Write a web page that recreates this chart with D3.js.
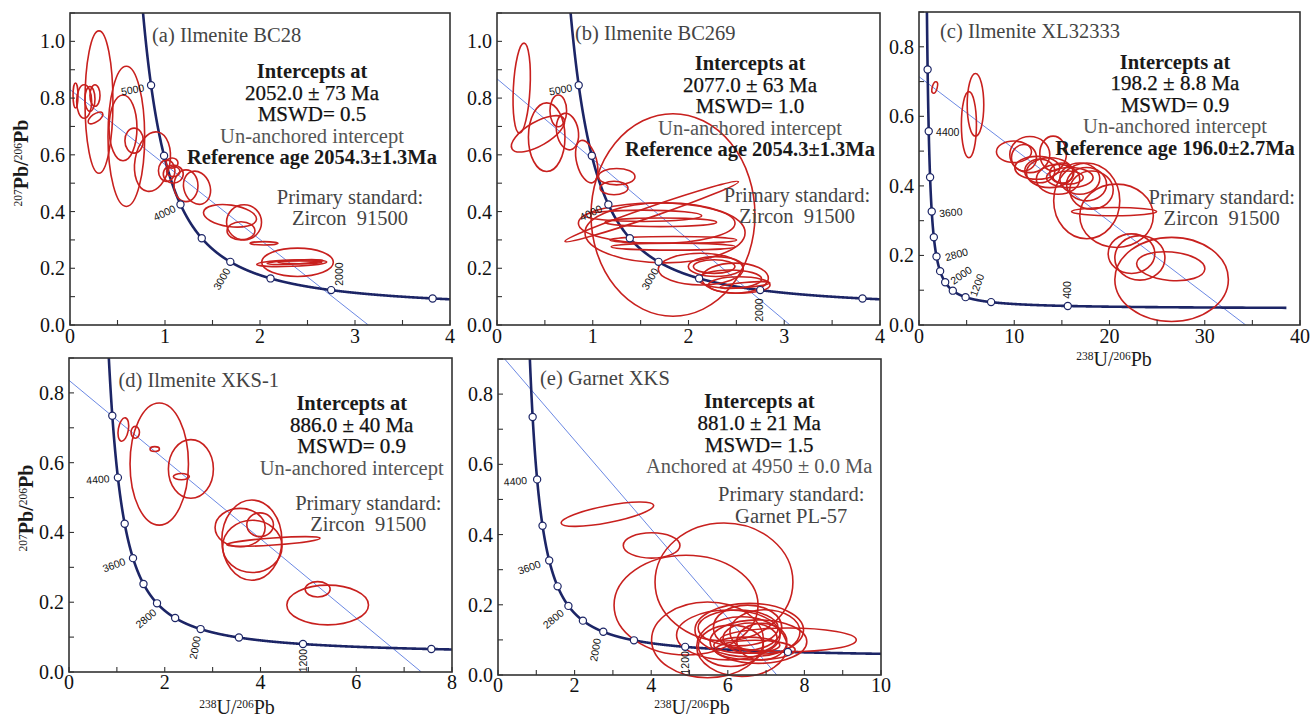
<!DOCTYPE html>
<html>
<head>
<meta charset="utf-8">
<script src="https://cdn.jsdelivr.net/npm/d3@7"></script>
<style>
  body { margin: 0; background: #fff; }
  svg { display: block; }
  text { white-space: pre; }
</style>
</head>
<body>
<svg id="chart" width="1310" height="719"></svg>
<script>
// decay constants (per Ma) for the Tera-Wasserburg concordia
var LAMBDA_238 = 1.55125e-4;
var LAMBDA_235 = 9.8485e-4;
var U_RATIO = 137.88;

// ---- data -------------------------------------------------------------
var titles = ["(a) Ilmenite BC28", "(b) Ilmenite BC269", "(c) Ilmenite XL32333",
              "(d) Ilmenite XKS-1", "(e) Garnet XKS"];

var resultsA = ["Intercepts at", "2052.0 \u00b1 73 Ma", "MSWD= 0.5", "Un-anchored intercept", "Reference age 2054.3\u00b11.3Ma"];
var resultsB = ["Intercepts at", "2077.0 \u00b1 63 Ma", "MSWD= 1.0", "Un-anchored intercept", "Reference age 2054.3\u00b11.3Ma"];
var resultsC = ["Intercepts at", "198.2 \u00b1 8.8 Ma", "MSWD= 0.9", "Un-anchored intercept", "Reference age 196.0\u00b12.7Ma"];
var resultsD = ["Intercepts at", "886.0 \u00b1 40 Ma", "MSWD= 0.9", "Un-anchored intercept"];
var resultsE = ["Intercepts at", "881.0 \u00b1 21 Ma", "MSWD= 1.5", "Anchored at 4950 \u00b1 0.0 Ma"];

var standardZircon = ["Primary standard:", "Zircon  91500"];
var standardGarnet = ["Primary standard:", "Garnet PL-57"];

var xTicksAB = [0, 1, 2, 3, 4];
var xTicksC = [0, 10, 20, 30, 40];
var xTicksD = [0, 2, 4, 6, 8];
var xTicksE = [0, 2, 4, 6, 8, 10];
var yTicksAB = [0, 0.2, 0.4, 0.6, 0.8, 1.0];
var yTicksCDE = [0, 0.2, 0.4, 0.6, 0.8];

// concordia age marks (Ma)
var marksOld = [5000, 4500, 4000, 3500, 3000, 2500, 2000, 1500];
var marksYoung = [4800, 4400, 4000, 3600, 3200, 2800, 2400, 2000, 1600, 1200, 800, 400];
var labelsAB = [5000, 4000, 3000, 2000];
var labelsC = [4400, 3600, 2800, 2000, 1200, 400];
var labelsDE = [4400, 3600, 2800, 2000, 1200];

// discordia: [upper y-intercept, lower x-intercept]
var discordiaA = [0.83, 3.14];
var discordiaB = [0.868, 3.06];
var discordiaC = [0.714, 34.3];
var discordiaD = [0.836, 7.36];
var discordiaE = [0.922, 7.28];

// error ellipses: [238U/206Pb, 207Pb/206Pb, err x, err y, tilt deg]
var ellipsesA = [
  [0.305, 0.786, 0.147, 0.251, 0], [0.593, 0.665, 0.193, 0.247, 0], [0.558, 0.695, 0.147, 0.116, 0],
  [0.058, 0.809, 0.026, 0.044, 0], [0.149, 0.788, 0.079, 0.059, 0], [0.21, 0.797, 0.053, 0.044, 0],
  [0.263, 0.809, 0.053, 0.038, 0], [0.268, 0.73, 0.09, 0.014, -35], [0.675, 0.65, 0.097, 0.044, 0],
  [0.868, 0.576, 0.184, 0.106, 10], [1.018, 0.544, 0.087, 0.038, 0], [1.087, 0.532, 0.105, 0.032, 0],
  [1.087, 0.541, 0.07, 0.018, 0], [1.074, 0.571, 0.063, 0.018, 0], [1.221, 0.491, 0.126, 0.056, 0],
  [1.337, 0.484, 0.137, 0.06, -20], [1.684, 0.385, 0.281, 0.038, 8], [1.832, 0.362, 0.184, 0.062, 0],
  [1.8, 0.332, 0.147, 0.032, 0], [2.042, 0.288, 0.147, 0.006, 0], [2.395, 0.221, 0.377, 0.05, 0],
  [2.334, 0.218, 0.368, 0.011, -2], [2.37, 0.222, 0.295, 0.007, -3], [2.42, 0.221, 0.23, 0.005, 0]
];
var ellipsesB = [
  [0.258, 0.835, 0.087, 0.159, 3], [0.519, 0.662, 0.191, 0.121, 0], [0.428, 0.674, 0.313, 0.042, -30],
  [0.64, 0.755, 0.087, 0.056, 0], [0.736, 0.682, 0.113, 0.065, -10], [0.937, 0.576, 0.104, 0.077, -15],
  [1.25, 0.523, 0.191, 0.029, 0], [1.222, 0.483, 0.146, 0.024, 0], [1.838, 0.388, 0.856, 0.357, 0],
  [1.616, 0.4, 0.958, 0.018, -19], [1.528, 0.385, 0.609, 0.02, 0], [1.711, 0.362, 0.583, 0.015, 0],
  [1.668, 0.359, 0.818, 0.071, 0], [1.755, 0.325, 0.836, 0.106, 0], [1.841, 0.3, 0.661, 0.012, 0],
  [1.841, 0.276, 0.648, 0.012, 0], [2.128, 0.197, 0.444, 0.056, 0], [2.285, 0.206, 0.287, 0.035, 0],
  [2.268, 0.206, 0.217, 0.024, 0], [2.486, 0.165, 0.348, 0.053, 0], [2.433, 0.162, 0.331, 0.032, 0],
  [2.53, 0.141, 0.322, 0.029, 0], [2.59, 0.141, 0.26, 0.009, -5]
];
var ellipsesC = [
  [1.65, 0.683, 0.26, 0.017, 15], [5.24, 0.576, 0.79, 0.095, 0], [5.93, 0.633, 0.87, 0.09, 0],
  [9.97, 0.498, 1.84, 0.031, 0], [11.63, 0.49, 2.1, 0.052, 0], [11.02, 0.481, 1.31, 0.038, 0],
  [14.08, 0.493, 1.4, 0.05, 0], [12.42, 0.452, 2.36, 0.033, 0], [13.73, 0.438, 2.45, 0.043, 0],
  [14.6, 0.419, 2.28, 0.043, 0], [15.83, 0.424, 2.45, 0.029, 0], [15.66, 0.424, 1.58, 0.019, 0],
  [16.88, 0.421, 2.1, 0.045, 0], [17.59, 0.405, 2.1, 0.048, 0], [18.11, 0.388, 2.28, 0.055, 0],
  [17.61, 0.357, 3.47, 0.109, 0], [20.74, 0.314, 3.86, 0.091, 0], [20.48, 0.326, 4.47, 0.012, 0],
  [22.31, 0.205, 2.45, 0.057, 0], [23.19, 0.193, 2.63, 0.064, 0], [26.43, 0.169, 3.59, 0.041, 5],
  [26.52, 0.131, 5.96, 0.121, 0], [12.68, 0.443, 1.58, 0.034, 0], [14.99, 0.437, 1.26, 0.029, 0]
];
var ellipsesD = [
  [1.135, 0.695, 0.105, 0.034, 10], [1.384, 0.687, 0.088, 0.017, 0], [1.791, 0.639, 0.098, 0.007, 0],
  [1.885, 0.596, 0.61, 0.175, 0], [2.546, 0.582, 0.47, 0.084, 0], [2.347, 0.56, 0.167, 0.009, 0],
  [3.574, 0.414, 0.523, 0.055, 0], [3.819, 0.378, 0.627, 0.115, 0], [3.992, 0.422, 0.278, 0.034, 0],
  [3.83, 0.36, 0.62, 0.075, 0], [4.27, 0.374, 0.976, 0.01, -4], [5.194, 0.237, 0.261, 0.022, 0],
  [5.403, 0.192, 0.853, 0.057, 0]
];
var ellipsesE = [
  [2.856, 0.458, 1.229, 0.024, -11], [4.011, 0.369, 0.74, 0.036, 0], [5.9, 0.265, 1.8, 0.168, 0],
  [4.91, 0.199, 1.88, 0.142, 0], [5.47, 0.1, 1.46, 0.108, 0], [6.014, 0.114, 1.352, 0.071, 0],
  [6.56, 0.128, 1.417, 0.076, 0], [6.365, 0.081, 1.177, 0.085, 0], [6.517, 0.135, 0.894, 0.064, 0],
  [7.576, 0.1, 1.778, 0.034, 0], [6.08, 0.083, 0.85, 0.059, 0], [6.8, 0.095, 1.263, 0.062, 0],
  [6.496, 0.085, 0.863, 0.023, 0], [6.888, 0.095, 0.654, 0.052, 0], [6.582, 0.105, 0.706, 0.043, 0],
  [6.27, 0.134, 1.046, 0.051, 0], [6.97, 0.123, 0.915, 0.063, 0], [6.713, 0.071, 1.046, 0.028, 0]
];

// ---- layout -----------------------------------------------------------
var SERIF = "'Liberation Serif', 'Times New Roman', serif";
var SANS = "'Liberation Sans', Arial, sans-serif";
var RED = "#c8201e", NAVY = "#1c2566", BLUE = "#5a7be0";

// label offsets from its marker: [dx, dy, rotate]
var panels = [
  { id: "a", box: [70, 13, 450, 325], xMax: 4, yMax: 1.1, xTicks: xTicksAB, xMinor: 0.5, yTicks: yTicksAB, tickGap: 18,
    ellipses: ellipsesA, discordia: discordiaA, marks: marksOld, tMin: 1000,
    labels: labelsAB, labelPos: [[-18.5, 4.5, -10], [-16, 8.5, -25], [-8.5, 17, -60], [8, -16, -90]],
    title: titles[0], titlePos: [82, 29], results: resultsA, resPos: [242, 65], standard: standardZircon, stdPos: [280, 190.5],
    yTitle: [28, 163] },
  { id: "b", box: [497, 13, 880, 325], xMax: 4, yMax: 1.1, xTicks: xTicksAB, xMinor: 0.5, yTicks: yTicksAB, tickGap: 18,
    ellipses: ellipsesB, discordia: discordiaB, marks: marksOld, tMin: 1000,
    labels: labelsAB, labelPos: [[-18, 4.5, -10], [-17.5, 8.5, -25], [-8.5, 17, -60], [-1, 20, -90]],
    title: titles[1], titlePos: [78, 27], results: resultsB, resPos: [253, 57], standard: standardZircon, stdPos: [300, 188.5] },
  { id: "c", box: [919, 12, 1300, 325], xMax: 40, yMax: 0.9, xTicks: xTicksC, xMinor: 5, yTicks: yTicksCDE, tickGap: 18,
    ellipses: ellipsesC, discordia: discordiaC, marks: marksYoung, tMin: 165,
    labels: labelsC, labelPos: [[19, 1, 0], [19, 1, -5], [20, -2, -15], [16, -7, -35], [11.5, -12, -70], [0, -16, -90]],
    title: titles[2], titlePos: [21, 25.5], results: resultsC, resPos: [256, 56.5], standard: standardZircon, stdPos: [302.7, 191.5],
    xTitle: [1114, 366] },
  { id: "d", box: [69, 358, 452, 672], xMax: 8, yMax: 0.9, xTicks: xTicksD, xMinor: 1, yTicks: yTicksCDE, tickGap: 16.6,
    ellipses: ellipsesD, discordia: discordiaD, marks: marksYoung, tMin: 500,
    labels: labelsDE, labelPos: [[-20, 2, -5], [-19, 7, -20], [-11, 15, -40], [-5.6, 18.6, -80], [0, 16.6, -90]],
    title: titles[3], titlePos: [49.5, 28.5], results: resultsD, resPos: [282.7, 52], standard: standardZircon, stdPos: [299.3, 151.5],
    yTitle: [33, 508], xTitle: [237, 714] },
  { id: "e", box: [498, 359, 881, 675], xMax: 10, yMax: 0.9, xTicks: xTicksE, xMinor: 1, yTicks: yTicksCDE, tickGap: 16.6,
    ellipses: ellipsesE, discordia: discordiaE, marks: marksYoung, tMin: 300,
    labels: labelsDE, labelPos: [[-21.7, 2, -5], [-20, 7, -20], [-15, 13, -40], [-8, 18, -80], [0, 16, -90]],
    title: titles[4], titlePos: [42, 26], results: resultsE, resPos: [261.2, 49.3], standard: standardGarnet, stdPos: [293.2, 142.2],
    xTitle: [692, 714] }
];

// Tera-Wasserburg coordinates for an age in Ma
function teraW(t) {
  var e8 = Math.exp(LAMBDA_238 * t) - 1;
  var e5 = Math.exp(LAMBDA_235 * t) - 1;
  return [1 / e8, e5 / (U_RATIO * e8)];
}

var svg = d3.select("#chart");

function ratioTitle(sel, a, b, c, d, weight) {
  sel.style("font-family", SERIF).style("font-size", "20px").style("font-weight", weight).attr("fill", "#1a1a1a");
  sel.append("tspan").attr("baseline-shift", "super").style("font-size", "11.5px").style("font-weight", "normal").text(a);
  sel.append("tspan").text(b);
  sel.append("tspan").attr("baseline-shift", "super").style("font-size", "11.5px").style("font-weight", "normal").text(c);
  sel.append("tspan").text(d);
}

panels.forEach(function(p) {
  var L = p.box[0], T = p.box[1], R = p.box[2], B = p.box[3];
  var x = d3.scaleLinear().domain([0, p.xMax]).range([L, R]);
  var y = d3.scaleLinear().domain([0, p.yMax]).range([B, T]);
  var g = svg.append("g").attr("class", "panel-" + p.id);
  var clipId = "clip-" + p.id;

  g.append("clipPath").attr("id", clipId).append("rect")
    .attr("x", L).attr("y", T).attr("width", R - L).attr("height", B - T);

  // discordia
  g.append("line")
    .attr("clip-path", "url(#" + clipId + ")")
    .attr("x1", x(0)).attr("y1", y(p.discordia[0]))
    .attr("x2", x(p.discordia[1])).attr("y2", y(0))
    .attr("stroke", BLUE).attr("stroke-width", 0.9);

  // concordia
  var curve = d3.range(p.tMin, 6000, 2).map(teraW);
  g.append("path").datum(curve)
    .attr("clip-path", "url(#" + clipId + ")")
    .attr("d", d3.line().x(function(d) { return x(d[0]); }).y(function(d) { return y(d[1]); }))
    .attr("fill", "none").attr("stroke", NAVY).attr("stroke-width", 2.6);

  // error ellipses
  g.selectAll("ellipse.err").data(p.ellipses).join("ellipse")
    .attr("class", "err")
    .attr("transform", function(d) { return "translate(" + x(d[0]) + "," + y(d[1]) + ") rotate(" + d[4] + ")"; })
    .attr("rx", function(d) { return x(d[2]) - x(0); })
    .attr("ry", function(d) { return y(0) - y(d[3]); })
    .attr("fill", "none").attr("stroke", RED).attr("stroke-width", 1.6);

  // age marks
  var marks = p.marks.map(teraW).filter(function(d) { return d[0] <= p.xMax && d[1] <= p.yMax; });
  g.selectAll("circle.mark").data(marks).join("circle")
    .attr("class", "mark")
    .attr("cx", function(d) { return x(d[0]); })
    .attr("cy", function(d) { return y(d[1]); })
    .attr("r", 3.6)
    .attr("fill", "#fff").attr("stroke", NAVY).attr("stroke-width", 1.2);

  g.selectAll("text.age").data(p.labels).join("text")
    .attr("class", "age")
    .attr("transform", function(d, i) {
      var pt = teraW(d), o = p.labelPos[i];
      return "translate(" + (x(pt[0]) + o[0]) + "," + (y(pt[1]) + o[1]) + ") rotate(" + o[2] + ")";
    })
    .attr("text-anchor", "middle").attr("dy", "0.35em")
    .style("font-family", SANS).style("font-size", "10.5px").attr("fill", "#111")
    .text(function(d) { return d; });

  // frame and ticks
  g.append("rect").attr("x", L).attr("y", T).attr("width", R - L).attr("height", B - T)
    .attr("fill", "none").attr("stroke", "#333").attr("stroke-width", 1.6);

  var xMinor = d3.range(0, p.xMax + 1e-9, p.xMinor);
  var yMinor = d3.range(0, p.yMax + 1e-9, 0.1);
  g.selectAll("line.xt").data(xMinor).join("line").attr("class", "xt")
    .attr("x1", function(d) { return x(d); }).attr("x2", function(d) { return x(d); })
    .attr("y1", B).attr("y2", B - 5).attr("stroke", "#333").attr("stroke-width", 1.1);
  g.selectAll("line.yt").data(yMinor).join("line").attr("class", "yt")
    .attr("y1", function(d) { return y(d); }).attr("y2", function(d) { return y(d); })
    .attr("x1", L).attr("x2", L + 5).attr("stroke", "#333").attr("stroke-width", 1.1);

  g.selectAll("text.xl").data(p.xTicks).join("text").attr("class", "xl")
    .attr("x", function(d) { return x(d); }).attr("y", B + p.tickGap)
    .attr("text-anchor", "middle")
    .style("font-family", SERIF).style("font-size", "20px").attr("fill", "#111")
    .text(function(d) { return d; });
  g.selectAll("text.yl").data(p.yTicks).join("text").attr("class", "yl")
    .attr("x", L - 5).attr("y", function(d) { return y(d); }).attr("dy", "0.35em")
    .attr("text-anchor", "end")
    .style("font-family", SERIF).style("font-size", "20px").attr("fill", "#111")
    .text(function(d) { return d3.format(".1f")(d); });

  // annotations
  g.append("text").attr("x", L + p.titlePos[0]).attr("y", T + p.titlePos[1])
    .style("font-family", SERIF).style("font-size", "20.5px").attr("fill", "#444")
    .text(p.title);

  var resStyle = [
    { w: "bold", c: "#1a1a1a", s: 0, f: 20.5 }, { w: "normal", c: "#111", s: 0.25, f: 21 },
    { w: "normal", c: "#111", s: 0.25, f: 21 }, { w: "normal", c: "#555", s: 0, f: 20.5 },
    { w: "bold", c: "#1a1a1a", s: 0, f: 20.5 }
  ];
  g.selectAll("text.res").data(p.results).join("text").attr("class", "res")
    .attr("x", L + p.resPos[0]).attr("y", function(d, i) { return T + p.resPos[1] + i * 21.6; })
    .attr("text-anchor", "middle")
    .style("font-family", SERIF)
    .style("font-size", function(d, i) { return resStyle[i].f + "px"; })
    .style("font-weight", function(d, i) { return resStyle[i].w; })
    .attr("fill", function(d, i) { return resStyle[i].c; })
    .attr("stroke", function(d, i) { return resStyle[i].s ? resStyle[i].c : "none"; })
    .attr("stroke-width", function(d, i) { return resStyle[i].s; })
    .text(function(d) { return d; });

  g.selectAll("text.std").data(p.standard).join("text").attr("class", "std")
    .attr("x", L + p.stdPos[0]).attr("y", function(d, i) { return T + p.stdPos[1] + i * 21.8; })
    .attr("text-anchor", "middle")
    .style("font-family", SERIF).style("font-size", "20.5px").attr("fill", "#444")
    .text(function(d) { return d; });

  if (p.yTitle) {
    g.append("text")
      .attr("transform", "translate(" + p.yTitle[0] + "," + p.yTitle[1] + ") rotate(-90)")
      .attr("text-anchor", "middle")
      .call(ratioTitle, "207", "Pb/", "206", "Pb", "bold");
  }
  if (p.xTitle) {
    g.append("text").attr("x", p.xTitle[0]).attr("y", p.xTitle[1])
      .attr("text-anchor", "middle")
      .call(ratioTitle, "238", "U/", "206", "Pb", "normal");
  }
});
</script>
</body>
</html>
